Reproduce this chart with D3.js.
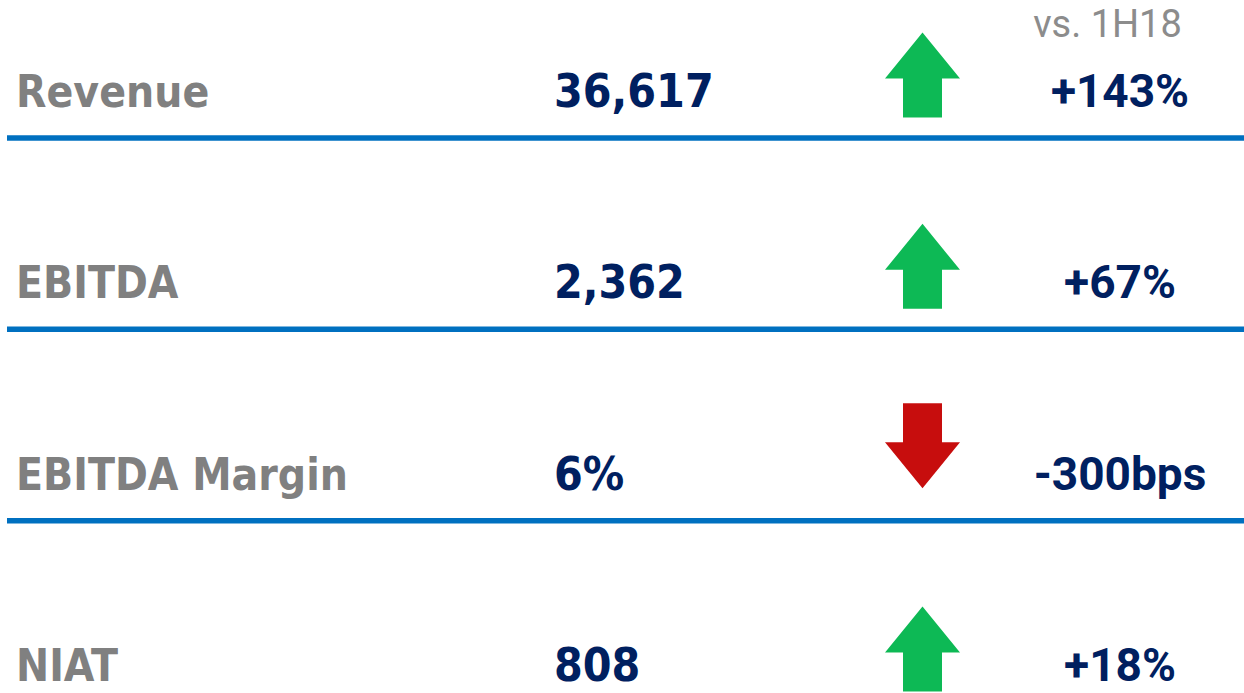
<!DOCTYPE html>
<html>
<head>
<meta charset="utf-8">
<script src="https://cdn.jsdelivr.net/npm/d3@7"></script>
<style>
  body { margin: 0; background: #fff; }
</style>
</head>
<body>
<div id="card"></div>
<script>
// KPI rows
var metrics = ["Revenue", "EBITDA", "EBITDA Margin", "NIAT"];
var values = ["36,617", "2,362", "6%", "808"];
var changes = ["+143%", "+67%", "-300bps", "+18%"];
var directions = ["up", "up", "down", "up"];
var compareLabel = "vs. 1H18";

var svgWidth = 1244;
var svgHeight = 693;

var svg = d3.select("#card")
    .append("svg")
    .attr("width", svgWidth)
    .attr("height", svgHeight);

var rows = metrics.map(function(m, i) {
    return { metric: m, value: values[i], change: changes[i], dir: directions[i] };
});

// baseline of each row
var yRow = d3.scaleLinear()
    .domain([0, metrics.length - 1])
    .range([107, 681]);

// column positions
var labelX = 16;
var valueX = 554;
var arrowX = 922.5;
var changeX = 1120;

// soft edge on the arrows
var defs = svg.append("defs");
defs.append("filter")
    .attr("id", "soft")
    .append("feGaussianBlur")
    .attr("stdDeviation", 0.7);

// arrow shape centred on 0,0 pointing up
var arrowPath = d3.path();
arrowPath.moveTo(0, -42.5);
arrowPath.lineTo(37.5, 3.5);
arrowPath.lineTo(19.5, 3.5);
arrowPath.lineTo(19.5, 42.5);
arrowPath.lineTo(-19.5, 42.5);
arrowPath.lineTo(-19.5, 3.5);
arrowPath.lineTo(-37.5, 3.5);
arrowPath.closePath();

var rowGroup = svg.selectAll("g.row")
    .data(rows)
    .enter()
    .append("g")
    .attr("class", "row")
    .attr("transform", (d, i) => `translate(0, ${yRow(i)})`);

// blue separator lines
rowGroup.append("line")
    .attr("x1", 7)
    .attr("x2", svgWidth)
    .attr("y1", 31)
    .attr("y2", 31)
    .attr("stroke", "#0070c0")
    .attr("stroke-width", 5.5);

rowGroup.append("text")
    .attr("x", labelX)
    .attr("y", 0)
    .attr("font-family", "DejaVu Sans Condensed")
    .attr("font-weight", 700)
    .attr("font-size", "44px")
    .attr("fill", "#808080")
    .text(d => d.metric);

rowGroup.append("text")
    .attr("x", valueX)
    .attr("y", 0)
    .attr("font-family", "DejaVu Sans Condensed")
    .attr("font-weight", 700)
    .attr("font-size", "46px")
    .attr("fill", "#002060")
    .text(d => d.value);

rowGroup.append("path")
    .attr("d", arrowPath.toString())
    .attr("transform", d => d.dir === "up"
        ? `translate(${arrowX}, -32)`
        : `translate(${arrowX}, -44) rotate(180)`)
    .attr("fill", d => d.dir === "up" ? "#10b955" : "#c70a0a")
    .attr("filter", "url(#soft)");

rowGroup.append("text")
    .attr("x", changeX)
    .attr("y", 0)
    .attr("text-anchor", "middle")
    .attr("font-family", "Roboto")
    .attr("font-weight", 700)
    .attr("font-size", "46px")
    .attr("fill", "#002060")
    .text(d => d.change);

// comparison period header
svg.append("text")
    .attr("x", 1107.5)
    .attr("y", 37)
    .attr("text-anchor", "middle")
    .attr("font-family", "Roboto")
    .attr("font-size", "38px")
    .attr("fill", "#8c8c8c")
    .text(compareLabel);
</script>
</body>
</html>
